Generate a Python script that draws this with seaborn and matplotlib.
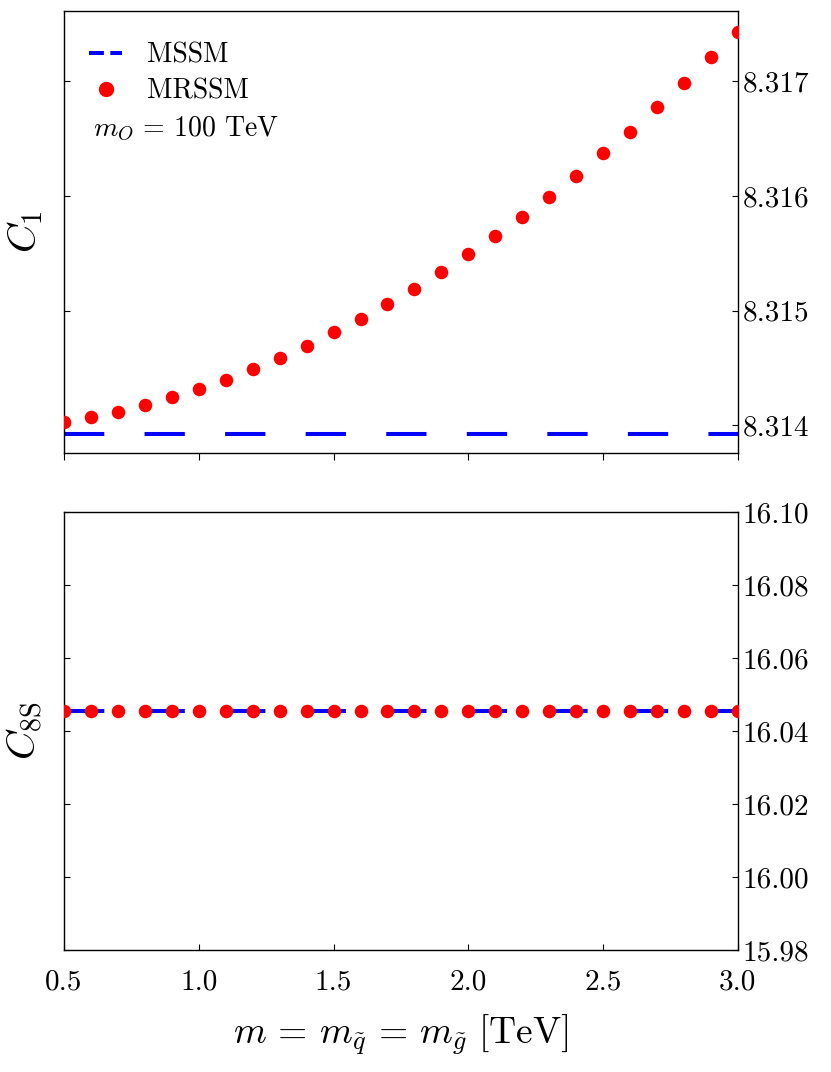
import numpy as np
import pandas as pd
import matplotlib
matplotlib.use("Agg")
import matplotlib.pyplot as plt
from matplotlib.lines import Line2D
from matplotlib.ticker import FormatStrFormatter, MultipleLocator
import seaborn as sns

# data
m_tev = [0.5, 0.6, 0.7, 0.8, 0.9, 1.0, 1.1, 1.2, 1.3, 1.4, 1.5, 1.6, 1.7,
         1.8, 1.9, 2.0, 2.1, 2.2, 2.3, 2.4, 2.5, 2.6, 2.7, 2.8, 2.9, 3.0]
c1_mrssm = [8.31403, 8.31407, 8.31412, 8.31418, 8.31425, 8.31432, 8.31440,
            8.31449, 8.31459, 8.31469, 8.31481, 8.31493, 8.31506, 8.31519,
            8.31534, 8.31549, 8.31565, 8.31582, 8.31599, 8.31617, 8.31637,
            8.31656, 8.31677, 8.31698, 8.31721, 8.31743]
c1_mssm = [8.31393] * len(m_tev)
c8s_mrssm = [16.0455] * len(m_tev)
c8s_mssm = [16.0455] * len(m_tev)

df = pd.DataFrame({"m": m_tev, "c1_mrssm": c1_mrssm, "c1_mssm": c1_mssm,
                   "c8s_mrssm": c8s_mrssm, "c8s_mssm": c8s_mssm})

sns.set_style("ticks")
plt.rcParams["font.family"] = "serif"
plt.rcParams["font.serif"] = ["cmr10", "DejaVu Serif"]
plt.rcParams["mathtext.fontset"] = "cm"
plt.rcParams["axes.formatter.use_mathtext"] = True
plt.rcParams["axes.unicode_minus"] = False
for k in ["text.color", "axes.labelcolor", "xtick.color", "ytick.color", "axes.edgecolor"]:
    plt.rcParams[k] = "black"

fig = plt.figure(figsize=(8.31, 10.72), dpi=100)
ax1 = fig.add_axes([0.077, 0.5774, 0.811, 0.4123])
ax2 = fig.add_axes([0.077, 0.1138, 0.811, 0.4086])

for ax, line_col, dot_col in [(ax1, "c1_mssm", "c1_mrssm"), (ax2, "c8s_mssm", "c8s_mrssm")]:
    sns.lineplot(data=df, x="m", y=line_col, ax=ax, color="#0000ff", lw=2.9,
                 linestyle=(0, (10, 10)), zorder=2)
    sns.scatterplot(data=df, x="m", y=dot_col, ax=ax, color="#ff0000", s=95,
                    linewidth=0, zorder=3)
    ax.set_xlim(0.5, 3.0)
    ax.yaxis.tick_right()
    ax.yaxis.set_label_position("left")
    ax.tick_params(axis="y", which="both", direction="in", left=True, right=True,
                   labelleft=False, labelright=True, labelsize=21, length=4)
    for s in ax.spines.values():
        s.set_linewidth(1.0)
        s.set_color("black")
    ax.set_xlabel("")

# top panel
ax1.set_ylim(8.31376, 8.31761)
ax1.yaxis.set_major_locator(MultipleLocator(0.001))
ax1.yaxis.set_major_formatter(FormatStrFormatter("%.3f"))
ax1.set_xticks([0.5, 1.0, 1.5, 2.0, 2.5, 3.0])
ax1.tick_params(axis="x", direction="out", labelbottom=False, length=5)
ax1.set_ylabel(r"$C_1$", fontsize=29, labelpad=14)

handles = [Line2D([], [], color="#0000ff", lw=2.9, linestyle="--"),
           Line2D([], [], color="#ff0000", marker="o", linestyle="none", markersize=10)]
ax1.legend(handles, ["MSSM", "MRSSM"], loc="upper left", frameon=False,
           fontsize=20, handlelength=1.2, handletextpad=0.9, labelspacing=0.33,
           borderaxespad=0.5, bbox_to_anchor=(0.0, 0.985))
ax1.text(0.043, 0.733, r"$m_O \,=\, 100$ TeV", transform=ax1.transAxes,
         fontsize=20, va="center", ha="left")

# bottom panel
ax2.set_ylim(15.98, 16.10)
ax2.yaxis.set_major_locator(MultipleLocator(0.02))
ax2.yaxis.set_major_formatter(FormatStrFormatter("%.2f"))
ax2.set_xticks([0.5, 1.0, 1.5, 2.0, 2.5, 3.0])
ax2.xaxis.set_major_formatter(FormatStrFormatter("%.1f"))
ax2.tick_params(axis="x", direction="in", labelsize=21, length=4, pad=14)
ax2.set_ylabel(r"$C_{8\mathrm{S}}$", fontsize=29, labelpad=14)
ax2.set_xlabel(r"$m \,=\, m_{\tilde{q}} \,=\, m_{\tilde{g}}\ [\mathrm{TeV}]$",
               fontsize=27, labelpad=12)

fig.savefig("out.png", dpi=100)
